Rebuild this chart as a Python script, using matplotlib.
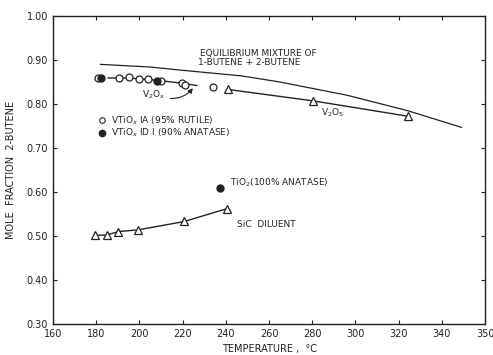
import numpy as np
import matplotlib.pyplot as plt

# equilibrium mixture curve
eq_t = [182, 205, 219, 247, 265, 296, 324, 349]
eq_y = [0.890, 0.884, 0.877, 0.864, 0.850, 0.820, 0.785, 0.747]

# VTiOx IA (95% rutile), open circles
ia_t = [181, 190.5, 195, 200, 204, 210, 219.5, 221, 234]
ia_y = [0.859, 0.859, 0.862, 0.857, 0.856, 0.852, 0.848, 0.844, 0.839]

# VTiOx ID1 (90% anatase), filled circles
id_t = [182, 208]
id_y = [0.859, 0.853]

# V2Ox line
v2ox_t = [185.5, 195, 208, 220, 226.5]
v2ox_y = [0.859, 0.859, 0.854, 0.847, 0.842]

# V2O5, open triangles
v2o5_t = [241, 280.5, 324.5]
v2o5_y = [0.833, 0.807, 0.772]

# SiC diluent, open triangles
sic_t = [179.5, 184.8, 190.2, 199.5, 220.8, 240.4]
sic_y = [0.502, 0.502, 0.510, 0.514, 0.533, 0.562]

# TiO2 (100% anatase)
tio2_t = [237.3]
tio2_y = [0.610]

xticks = [160, 180, 200, 220, 240, 260, 280, 300, 320, 340, 360]
xlabels = ['160', '180', '200', '220', '240', '260', '280', '300', '320', '340', '350']
yticks = [0.30, 0.40, 0.50, 0.60, 0.70, 0.80, 0.90, 1.00]

ink = '#222222'
plt.rcParams['font.family'] = 'DejaVu Sans'
fig = plt.figure(figsize=(4.93, 3.55), dpi=100)
ax = fig.add_axes([0.1075, 0.0873, 0.8765, 0.8677])

ax.plot(eq_t, eq_y, color=ink, lw=0.9)
ax.plot(v2ox_t, v2ox_y, color=ink, lw=1.0)
ax.plot(v2o5_t, v2o5_y, color=ink, lw=1.0)
ax.plot(sic_t, sic_y, color=ink, lw=1.0)

ax.plot(ia_t, ia_y, 'o', mfc='white', mec=ink, ms=5, mew=0.9, ls='none')
ax.plot(id_t, id_y, 'o', mfc=ink, mec=ink, ms=5, ls='none')
ax.plot(v2o5_t, v2o5_y, '^', mfc='white', mec=ink, ms=6, mew=0.9, ls='none')
ax.plot(sic_t, sic_y, '^', mfc='white', mec=ink, ms=6, mew=0.9, ls='none')
ax.plot(tio2_t, tio2_y, 'o', mfc=ink, mec=ink, ms=5, ls='none')

fs = 6.5
ax.text(228, 0.915, 'EQUILIBRIUM MIXTURE OF', fontsize=fs, color=ink, va='center')
ax.text(227, 0.894, '1-BUTENE + 2-BUTENE', fontsize=fs, color=ink, va='center')
ax.text(201, 0.821, 'V$_2$O$_x$', fontsize=fs, color=ink, va='center')
ax.annotate('', xy=(225.5, 0.841), xytext=(213, 0.813),
            arrowprops=dict(arrowstyle='-|>', color=ink, lw=0.8,
                            connectionstyle='arc3,rad=0.3', mutation_scale=7))
ax.text(284, 0.780, 'V$_2$O$_5$', fontsize=fs, color=ink, va='center')
ax.plot([182.5], [0.763], 'o', mfc='white', mec=ink, ms=4, mew=0.8)
ax.text(187, 0.763, 'VTiO$_x$ IA (95% RUTILE)', fontsize=fs, color=ink, va='center')
ax.plot([182.5], [0.734], 'o', mfc=ink, mec=ink, ms=4.5)
ax.text(187, 0.734, 'VTiO$_x$ ID I (90% ANATASE)', fontsize=fs, color=ink, va='center')
ax.text(242, 0.620, 'TiO$_2$(100% ANATASE)', fontsize=fs, color=ink, va='center')
ax.text(245, 0.526, 'SiC  DILUENT', fontsize=fs, color=ink, va='center')

ax.set_xlim(160, 360)
ax.set_ylim(0.30, 1.00)
ax.set_xticks(xticks)
ax.set_xticklabels(xlabels)
ax.set_yticks(yticks)
ax.set_yticklabels(['%.2f' % v for v in yticks])
ax.tick_params(direction='in', top=True, right=True, labelsize=7, colors=ink, length=3)
for s in ax.spines.values():
    s.set_color(ink)
    s.set_linewidth(1.0)
ax.set_xlabel('TEMPERATURE ,  °C', fontsize=7, color=ink)
ax.set_ylabel('MOLE  FRACTION  2-BUTENE', fontsize=7, color=ink, labelpad=8)

fig.savefig('out.png', dpi=100)
